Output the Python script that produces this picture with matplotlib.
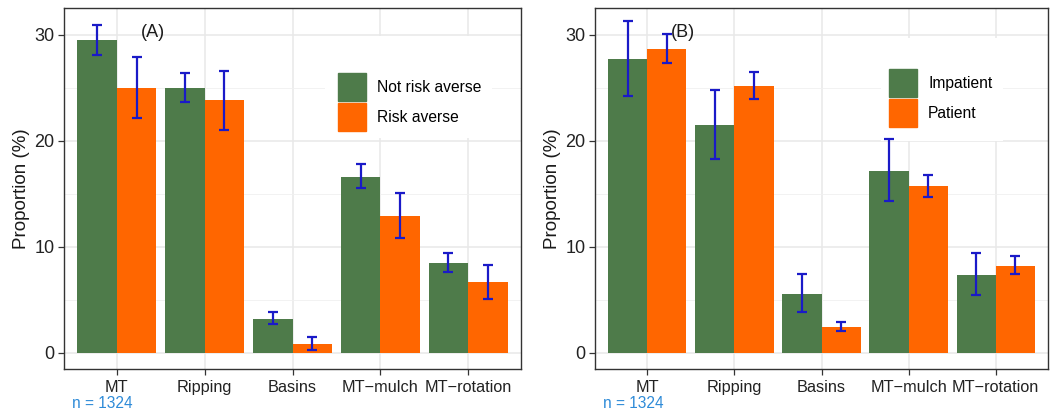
import numpy as np
import matplotlib
matplotlib.use("Agg")
import matplotlib.pyplot as plt
from matplotlib.patches import Patch, Rectangle

plt.rcParams["font.family"] = ["Liberation Sans", "DejaVu Sans"]

categories = ["MT", "Ripping", "Basins", "MT\u2212mulch", "MT\u2212rotation"]

# panel A: risk attitude
a_not = [29.5, 25.0, 3.2, 16.6, 8.5]
a_not_lo = [28.1, 23.7, 2.7, 15.5, 7.6]
a_not_hi = [30.9, 26.4, 3.8, 17.8, 9.4]
a_risk = [25.0, 23.9, 0.8, 12.9, 6.7]
a_risk_lo = [22.2, 21.0, 0.2, 10.8, 5.1]
a_risk_hi = [27.9, 26.6, 1.45, 15.1, 8.3]

# panel B: time preference
b_imp = [27.7, 21.5, 5.5, 17.2, 7.3]
b_imp_lo = [24.2, 18.3, 3.8, 14.3, 5.4]
b_imp_hi = [31.3, 24.8, 7.4, 20.2, 9.4]
b_pat = [28.7, 25.2, 2.4, 15.7, 8.2]
b_pat_lo = [27.4, 24.0, 2.0, 14.7, 7.4]
b_pat_hi = [30.1, 26.5, 2.9, 16.8, 9.1]

green = "#4e7b4a"
orange = "#ff6600"
ebar = "#1a1ac8"

fig = plt.figure(figsize=(10.51, 4.12), dpi=100)
ax_a = fig.add_axes([64 / 1051, 43 / 412, 457 / 1051, 361 / 412])
ax_b = fig.add_axes([595 / 1051, 43 / 412, 453 / 1051, 361 / 412])


def panel(ax, v1, lo1, hi1, v2, lo2, hi2, labels, tag, leg_xy, leg_bg):
    x = np.arange(1, len(categories) + 1)
    w = 0.45
    ax.set_axisbelow(True)
    ax.set_facecolor("white")
    ax.set_yticks([5, 15, 25], minor=True)
    ax.grid(True, which="major", color="#e8e8e8", lw=1.1)
    ax.grid(True, which="minor", axis="y", color="#f0f0f0", lw=0.6)
    # white legend background (ggplot keeps room for an empty title)
    ax.add_patch(Rectangle(leg_bg[:2], leg_bg[2], leg_bg[3], transform=ax.transAxes,
                           facecolor="white", edgecolor="none", zorder=0.8))
    ax.bar(x - w / 2, v1, width=w, color=green)
    ax.bar(x + w / 2, v2, width=w, color=orange)
    for xs, v, lo, hi in [(x - w / 2, v1, lo1, hi1), (x + w / 2, v2, lo2, hi2)]:
        v = np.array(v)
        err = [v - np.array(lo), np.array(hi) - v]
        ax.errorbar(xs, v, yerr=err, fmt="none", ecolor=ebar, elinewidth=1.6,
                    capsize=3.5, capthick=1.6)
    ax.set_xlim(0.4, 5.6)
    ax.set_ylim(-1.55, 32.55)
    ax.set_yticks([0, 10, 20, 30])
    ax.set_xticks(x)
    ax.set_xticklabels(categories)
    ax.tick_params(axis="both", which="major", colors="#333333", length=4.5, width=0.9)
    ax.tick_params(axis="x", labelsize=11.7, labelcolor="#222222")
    ax.tick_params(axis="y", labelsize=13, labelcolor="#222222", pad=2.5)
    ax.tick_params(axis="y", which="minor", length=0)
    for s in ax.spines.values():
        s.set_color("#333333")
        s.set_linewidth(1.0)
    ax.set_ylabel("Proportion (%)", fontsize=13.5, color="#1a1a1a", labelpad=3)
    ax.text(1.41, 30.2, tag, fontsize=13, ha="center", va="center", color="#1a1a1a")
    handles = [Patch(color=green), Patch(color=orange)]
    ax.legend(handles, labels, loc="upper left", bbox_to_anchor=leg_xy,
              fontsize=11.25, frameon=False, handlelength=1.8, handleheight=2.4,
              labelspacing=0.1, handletextpad=0.7, borderpad=0.3,
              borderaxespad=0)
    ax.text(0.0175, -0.095, "n = 1324", transform=ax.transAxes, fontsize=11.2,
            color="#2e8bd8", ha="left", va="center")


panel(ax_a, a_not, a_not_lo, a_not_hi, a_risk, a_risk_lo, a_risk_hi,
      ["Not risk averse", "Risk averse"], "(A)", (0.589, 0.833),
      (0.571, 0.640, 0.366, 0.282))
panel(ax_b, b_imp, b_imp_lo, b_imp_hi, b_pat, b_pat_lo, b_pat_hi,
      ["Impatient", "Patient"], "(B)", (0.639, 0.844),
      (0.631, 0.632, 0.270, 0.285))

fig.savefig("out.png", dpi=100)
